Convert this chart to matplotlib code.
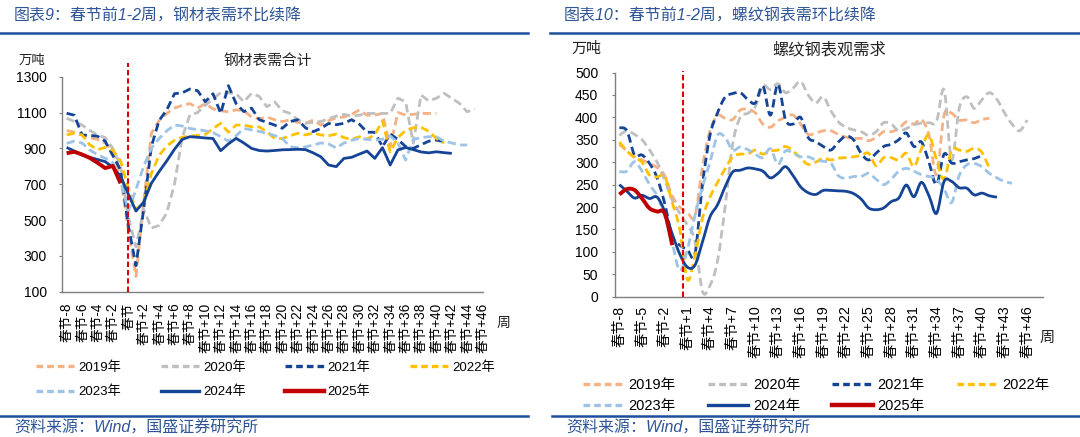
import matplotlib.pyplot as plt
from matplotlib.lines import Line2D
from matplotlib.path import Path
from matplotlib.patches import PathPatch

plt.rcParams['font.family'] = ['Liberation Sans', 'Noto Sans CJK SC']
plt.rcParams['axes.unicode_minus'] = False

# 横轴：春节前后周数
steel_weeks = ['春节-%d' % k for k in range(8, 0, -1)] + ['春节'] + ['春节+%d' % k for k in range(1, 47)]
rebar_weeks = ['春节-%d' % k for k in range(8, 0, -1)] + ['春节'] + ['春节+%d' % k for k in range(1, 49)]
years = ['2019年', '2020年', '2021年', '2022年', '2023年', '2024年', '2025年']

# 钢材表需合计（万吨）
steel_2019 = [1000, 990, 975, 960, 950, 930, 885, 740, 450, 185, 600, 985, 1055, 1095, 1125, 1140, 1150,
              1125, 1150, 1120, 1110, 1104, 1115, 1110, 1075, 1065, 1075, 1060, 1050, 1058, 1045, 1040,
              1058, 1030, 1055, 1070, 1075, 1090, 1114, 1085, 1085, 1095, 909, 1100, 1086, 1090, 1095,
              1095, 1095]
steel_2020 = [1068, 1050, 1030, 1000, 975, 960, 900, 800, 520, 350, 560, 455, 470, 540, 700, 960, 1086,
              1100, 1140, 1175, 1212, 1210, 1205, 1160, 1207, 1190, 1132, 1160, 1110, 1095, 1060, 1040,
              1045, 1050, 1065, 1080, 1090, 1080, 1085, 1095, 1095, 1095, 1095, 1180, 1160, 928, 1198,
              1165, 1180, 1207, 1180, 1151, 1104, 1120]
steel_2021 = [1096, 1085, 975, 972, 968, 940, 860, 780, 470, 245, 560, 910, 1055, 1115, 1205, 1210, 1231,
              1222, 1160, 1205, 1095, 1250, 1150, 1105, 1125, 1060, 1045, 1030, 1012, 1050, 1060, 1015,
              993, 1011, 1039, 1032, 1040, 1060, 1035, 990, 990, 909, 980, 950, 910, 900, 920, 940, 946,
              937]
steel_2022 = [975, 985, 975, 920, 893, 905, 890, 830, 680, 560, 595, 760, 860, 914, 945, 962, 968, 972,
              978, 1010, 1040, 990, 1030, 1030, 1020, 1020, 993, 955, 955, 970, 984, 975, 985, 975, 970,
              980, 960, 950, 965, 952, 975, 1055, 880, 960, 1000, 1015, 1018, 995, 955, 930]
steel_2023 = [928, 940, 930, 891, 865, 845, 820, 720, 550, 670, 800, 900, 955, 998, 1030, 1025, 1011,
              1005, 998, 988, 965, 940, 970, 1011, 1003, 995, 984, 972, 955, 909, 903, 908, 919, 930,
              925, 902, 930, 945, 956, 950, 946, 950, 970, 930, 835, 950, 960, 965, 965, 940, 930, 919,
              919]
steel_2024 = [905, 885, 863, 850, 838, 826, 795, 745, 645, 550, 600, 705, 770, 830, 895, 950, 965, 962,
              958, 955, 887, 925, 956, 930, 900, 888, 885, 888, 892, 893, 895, 893, 875, 853, 807, 798,
              844, 850, 868, 885, 844, 904, 807, 891, 905, 893, 880, 875, 881, 876, 872]
steel_2025 = [873, 881, 866, 847, 820, 790, 802, 705]

# 螺纹钢表观需求（万吨）
rebar_2019 = [340, 325, 312, 305, 297, 288, 270, 225, 200, 188, 180, 290, 370, 404, 398, 395, 416, 418,
              410, 385, 378, 392, 400, 405, 385, 362, 365, 370, 370, 362, 356, 353, 353, 348, 355, 368,
              368, 375, 390, 385, 395, 360, 272, 405, 409, 394, 394, 388, 395, 398]
rebar_2020 = [360, 370, 362, 350, 327, 300, 260, 215, 186, 160, 125, 12, 25, 80, 200, 340, 400, 409, 424,
              470, 462, 475, 455, 465, 480, 450, 432, 446, 415, 390, 378, 372, 368, 360, 368, 388, 385,
              370, 375, 383, 387, 388, 391, 461, 305, 420, 446, 420, 439, 455, 440, 410, 385, 370, 394]
rebar_2021 = [377, 370, 316, 316, 297, 265, 208, 135, 115, 105, 95, 250, 360, 410, 445, 453, 455, 440,
              432, 470, 405, 474, 395, 385, 400, 355, 346, 335, 327, 345, 358, 350, 320, 305, 320, 335,
              340, 350, 365, 335, 345, 300, 250, 318, 298, 301, 305, 308, 315]
rebar_2022 = [345, 325, 310, 300, 271, 267, 268, 210, 150, 38, 90, 175, 222, 255, 285, 312, 318, 318,
              327, 318, 325, 327, 335, 325, 309, 295, 300, 309, 305, 309, 310, 312, 315, 320, 292, 310,
              310, 305, 320, 290, 330, 361, 305, 262, 327, 327, 324, 331, 322, 286]
rebar_2023 = [279, 280, 301, 280, 250, 225, 180, 120, 58, 105, 180, 245, 300, 360, 355, 327, 334, 328,
              318, 310, 330, 295, 325, 320, 312, 312, 305, 302, 298, 270, 264, 268, 268, 275, 262, 250,
              262, 280, 286, 280, 272, 268, 262, 240, 210, 270, 294, 297, 290, 275, 265, 257, 253]
rebar_2024 = [250, 235, 220, 226, 219, 222, 190, 140, 95, 66, 70, 122, 178, 205, 245, 278, 282, 287, 285,
              280, 265, 275, 290, 270, 245, 232, 228, 237, 237, 236, 235, 230, 218, 198, 194, 198, 212,
              220, 249, 223, 255, 225, 186, 257, 257, 243, 242, 227, 231, 225, 222]
rebar_2025 = [228, 240, 238, 219, 197, 190, 186, 115]

colors = ['#F4B183', '#BFBFBF', '#154496', '#FFC000', '#9DC3E6', '#154496', '#C00000']
dashed = [True, True, True, True, True, False, False]
widths = [2.0, 2.0, 2.0, 2.0, 2.0, 2.0, 2.8]

title_blue = '#2F5597'
rule_blue = '#1F4E9A'
spine_grey = '#7F7F7F'

W, H = 1080, 437
fig = plt.figure(figsize=(W / 100, H / 100), dpi=100)


def fx(px):
    return px / W


def fy(py):
    return 1 - py / H


def smooth_path(vals):
    # Excel 式平滑折线：逐段三次贝塞尔
    pts = list(enumerate(vals))
    n = len(pts)
    verts, codes = [pts[0]], [Path.MOVETO]
    for i in range(n - 1):
        p0, p1 = pts[max(i - 1, 0)], pts[i]
        p2, p3 = pts[i + 1], pts[min(i + 2, n - 1)]
        c1 = (p1[0] + (p2[0] - p0[0]) / 6, p1[1] + (p2[1] - p0[1]) / 6)
        c2 = (p2[0] - (p3[0] - p1[0]) / 6, p2[1] - (p3[1] - p1[1]) / 6)
        verts += [c1, c2, p2]
        codes += [Path.CURVE4] * 3
    return Path(verts, codes)


def draw_panel(ax, weeks, series, step, ylim, yticks, fs, xpad, ypad, xlim, spring_x, vtop, smooth):
    for k, vals in enumerate(series):
        ls = (0, (3.0, 1.6)) if dashed[k] else '-'
        if smooth:
            ax.add_patch(PathPatch(smooth_path(vals), fill=False, edgecolor=colors[k],
                                   lw=widths[k], linestyle=ls, capstyle='butt'))
        else:
            ax.plot(range(len(vals)), vals, color=colors[k], lw=widths[k], ls=ls,
                    solid_capstyle='butt')
    ax.axvline(spring_x, ymin=0, ymax=vtop, color='#E00000', lw=1.5,
               ls=(0, (2.6, 1.4)), clip_on=False, zorder=5)
    ax.set_xlim(*xlim)
    ax.set_ylim(*ylim)
    ax.set_yticks(yticks)
    ax.set_xticks(range(0, len(weeks), step))
    ax.set_xticklabels(weeks[::step], rotation=90, fontsize=fs)
    ax.tick_params(axis='x', length=0, pad=xpad)
    ax.tick_params(axis='y', length=2.2, width=0.8, color=spine_grey, pad=ypad, labelsize=10)
    for s in ['top', 'right']:
        ax.spines[s].set_visible(False)
    for s in ['left', 'bottom']:
        ax.spines[s].set_color(spine_grey)
        ax.spines[s].set_linewidth(1.0)


def legend_handles():
    hs = []
    for k in range(7):
        kw = dict(color=colors[k], lw=widths[k] + 0.4)
        if dashed[k]:
            kw.update(ls=(0, (2.0, 1.2)))
        hs.append(Line2D([], [], **kw))
    return hs


order = [0, 4, 1, 5, 2, 6, 3]

# 左图：钢材表需合计
ax1 = fig.add_axes([fx(61.7), fy(291.7), fx(483 - 61.7), (291.7 - 76.7) / H])
draw_panel(ax1, steel_weeks,
           [steel_2019, steel_2020, steel_2021, steel_2022, steel_2023, steel_2024, steel_2025],
           2, (100, 1300), range(100, 1301, 200), 9.8, 7.7, 8.6, (-0.64, 54.05), 8, 1.064, False)
hs = legend_handles()
ax1.legend([hs[i] for i in order], [years[i] for i in order], ncol=4, loc='upper left',
           bbox_to_anchor=(fx(36), fy(361)), bbox_transform=fig.transFigure, frameon=False,
           fontsize=9.5, handlelength=2.9, handletextpad=0.3, columnspacing=3.0,
           borderpad=0, borderaxespad=0, labelspacing=0.93)

# 右图：螺纹钢表观需求
ax2 = fig.add_axes([fx(615.3), fy(296.7), fx(1043 - 615.3), (296.7 - 72.5) / H])
draw_panel(ax2, rebar_weeks,
           [rebar_2019, rebar_2020, rebar_2021, rebar_2022, rebar_2023, rebar_2024, rebar_2025],
           3, (0, 500), range(0, 501, 50), 10.3, 6.3, 10, (-0.54, 56.1), 8.37, 1.008, True)
ax2.legend([hs[i] for i in order], [years[i] for i in order], ncol=4, loc='upper left',
           bbox_to_anchor=(fx(583), fy(378)), bbox_transform=fig.transFigure, frameon=False,
           fontsize=10.5, handlelength=2.8, handletextpad=0.3, columnspacing=2.2,
           borderpad=0, borderaxespad=0, labelspacing=0.49)

# 标题、单位与来源
fig.text(fx(14), fy(16), '图表9：春节前1-2周，钢材表需环比续降', color=title_blue,
         fontsize=11.5, style='italic', va='center')
fig.text(fx(564), fy(16), '图表10：春节前1-2周，螺纹钢表需环比续降', color=title_blue,
         fontsize=11.5, style='italic', va='center')
for x0, x1 in [(0, 528), (550, 1080)]:
    fig.add_artist(Line2D([fx(x0), fx(x1)], [fy(33.4), fy(33.4)], color=rule_blue, lw=1.8))
for x0, x1 in [(0, 528), (552, 1080)]:
    fig.add_artist(Line2D([fx(x0), fx(x1)], [fy(416), fy(416)], color=rule_blue, lw=1.8))
fig.text(fx(14), fy(428), '资料来源：Wind，国盛证券研究所', color=title_blue,
         fontsize=11.5, style='italic', va='center')
fig.text(fx(566), fy(428), '资料来源：Wind，国盛证券研究所', color=title_blue,
         fontsize=11.5, style='italic', va='center')

fig.text(fx(31.7), fy(60.7), '万吨', fontsize=9.6, ha='center', va='center', color='#222222')
fig.text(fx(268), fy(61), '钢材表需合计', fontsize=10.6, ha='center', va='center', color='#222222')
fig.text(fx(503), fy(323), '周', fontsize=10, ha='center', va='center', color='#222222')
fig.text(fx(586.7), fy(48.3), '万吨', fontsize=10.8, ha='center', va='center', color='#222222')
fig.text(fx(829), fy(50), '螺纹钢表观需求', fontsize=11.7, ha='center', va='center', color='#222222')
fig.text(fx(1047), fy(338), '周', fontsize=11, ha='center', va='center', color='#222222')

fig.savefig('out.png', dpi=100)
